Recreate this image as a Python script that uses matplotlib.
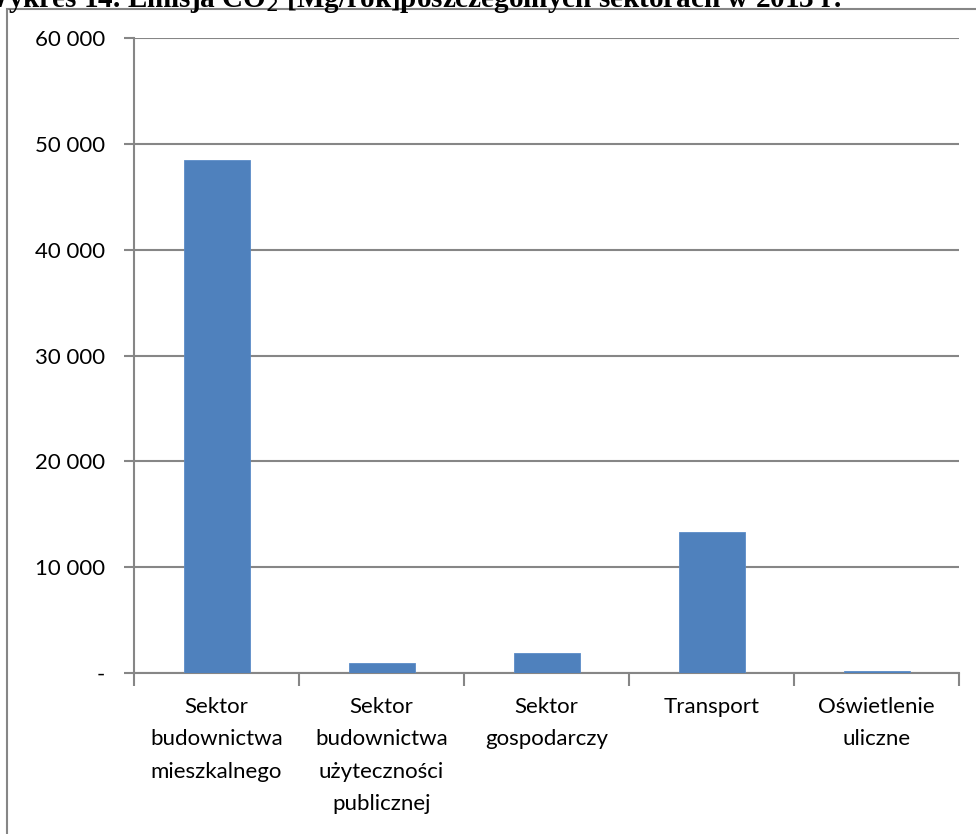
import numpy as np
import matplotlib
matplotlib.use('Agg')
import matplotlib.pyplot as plt
from matplotlib.patches import Rectangle

# emisja CO2 [Mg/rok] w sektorach
sektory = ['Sektor\nbudownictwa\nmieszkalnego',
           'Sektor\nbudownictwa\nużyteczności\npublicznej',
           'Sektor\ngospodarczy',
           'Transport',
           'Oświetlenie\nuliczne']
emisja = [48500, 900, 1850, 13300, 150]
yticks = [0, 10000, 20000, 30000, 40000, 50000, 60000]
ytick_labels = ['-', '10 000', '20 000', '30 000', '40 000', '50 000', '60 000']

plt.rcParams['font.family'] = ['Lato', 'DejaVu Sans']
W, H = 976, 834
fig = plt.figure(figsize=(W / 100, H / 100), dpi=100)

# ramka wykresu
fig.patches.append(Rectangle((7 / W, -0.1), 1.1, (H - 9) / H + 0.1,
                             transform=fig.transFigure, fill=False,
                             edgecolor='#868686', linewidth=1.5))

# tytuł (ucięty u góry)
fig.text(842 / W, 1 - 7 / H, 'Wykres 14. Emisja CO$_2$ [Mg/rok]poszczególnych sektorach w 2013 r.',
         ha='right', va='baseline', fontsize=21, fontweight='bold',
         family='Liberation Serif')

ax = fig.add_axes([134 / W, 1 - 673 / H, (959 - 134) / W, (673 - 38) / H])
x = np.arange(len(sektory))
ax.bar(x, emisja, width=0.4, color='#4f81bd', edgecolor='#5b8cc8', linewidth=0.6, zorder=3)

ax.set_xlim(-0.5, len(sektory) - 0.5)
ax.set_ylim(0, 60000)
ax.set_yticks(yticks)
ax.set_yticklabels(ytick_labels, fontsize=16)
ax.set_xticks(x)
ax.set_xticklabels(sektory, fontsize=16, linespacing=1.78)
ax.set_xticks(np.arange(-0.5, len(sektory)), minor=True)
ax.tick_params(axis='x', which='major', length=0, pad=17)
ax.tick_params(axis='x', which='minor', length=9, color='#868686', width=1.5, direction='out')
ax.tick_params(axis='y', length=7, color='#868686', width=1.5, pad=14)

ax.grid(axis='y', color='#868686', linewidth=1.5, zorder=0)
for s in ['top', 'right']:
    ax.spines[s].set_visible(False)
for s in ['left', 'bottom']:
    ax.spines[s].set_color('#868686')
    ax.spines[s].set_linewidth(1.5)

fig.savefig('out.png', dpi=100)
